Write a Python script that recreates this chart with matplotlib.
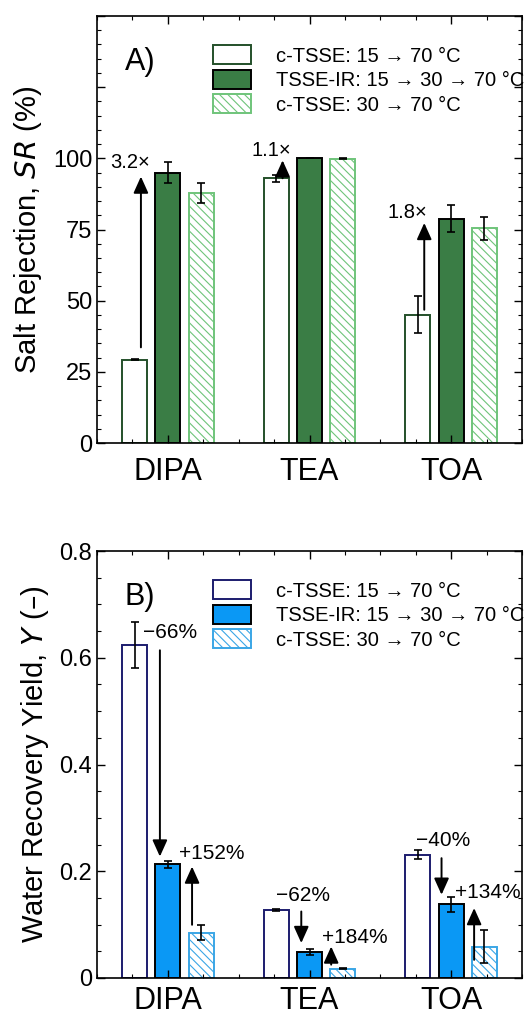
import numpy as np
import matplotlib
matplotlib.use('Agg')
import matplotlib.pyplot as plt
from matplotlib.ticker import MultipleLocator

plt.rcParams['font.family'] = ['Liberation Sans', 'DejaVu Sans']
plt.rcParams['hatch.linewidth'] = 0.8

amines = ['DIPA', 'TEA', 'TOA']
series = ['c-TSSE: 15 \u2192 70 \u00b0C', 'TSSE-IR: 15 \u2192 30 \u2192 70 \u00b0C', 'c-TSSE: 30 \u2192 70 \u00b0C']

# salt rejection (%)
sr_ctsse15 = [29.3, 93.0, 45.1]
sr_ctsse15_err = [0.3, 1.2, 6.4]
sr_ir = [95.0, 100.0, 78.8]
sr_ir_err = [3.8, 0.0, 4.7]
sr_ctsse30 = [87.7, 99.9, 75.4]
sr_ctsse30_err = [3.5, 0.3, 4.1]

# water recovery yield (-)
y_ctsse15 = [0.624, 0.128, 0.231]
y_ctsse15_err = [0.043, 0.002, 0.008]
y_ir = [0.213, 0.049, 0.138]
y_ir_err = [0.007, 0.005, 0.014]
y_ctsse30 = [0.085, 0.017, 0.059]
y_ctsse30_err = [0.014, 0.001, 0.031]

sr_labels = ['3.2\u00d7', '1.1\u00d7', '1.8\u00d7']
y_down_labels = ['\u221266%', '\u221262%', '\u221240%']
y_up_labels = ['+152%', '+184%', '+134%']

green_dark = '#24502a'
green_fill = '#3a7d45'
green_light = '#6fc47a'
navy = '#1c1c6e'
blue_fill = '#0a98f5'
blue_light = '#3aa6e6'

off = 0.235
w = 0.175
x = np.arange(len(amines))


def style_axes(ax, ymax, yticks, ylabels, minor, xpad=10):
	ax.set_xlim(-0.5, 2.5)
	ax.set_ylim(0, ymax)
	ax.set_xticks(x)
	ax.set_xticklabels(amines)
	ax.set_yticks(yticks)
	ax.set_yticklabels(ylabels)
	ax.xaxis.set_minor_locator(MultipleLocator(0.25))
	ax.yaxis.set_minor_locator(MultipleLocator(minor))
	ax.tick_params(which='both', direction='in', top=True, right=True)
	ax.tick_params(which='major', length=6, width=1.0)
	ax.tick_params(which='minor', length=3, width=0.8)
	ax.tick_params(axis='y', which='major', labelsize=17)
	ax.tick_params(axis='x', which='major', labelsize=22, pad=xpad)
	for s in ax.spines.values():
		s.set_linewidth(1.2)


def bars(ax, v1, e1, v2, e2, v3, e3, c_edge1, c_fill, c_light):
	ek = dict(ecolor='black', capsize=3, elinewidth=1.2, capthick=1.2)
	ax.bar(x - off, v1, w, yerr=e1, color='white', edgecolor=c_edge1, linewidth=1.4, label=series[0], error_kw=ek)
	ax.bar(x, v2, w, yerr=e2, color=c_fill, edgecolor='black', linewidth=1.4, label=series[1], error_kw=ek)
	ax.bar(x + off, v3, w, yerr=e3, color='white', edgecolor=c_light, hatch='\\\\\\\\', linewidth=1.4, label=series[2], error_kw=ek)


def arrow(ax, xx, y0, y1):
	ax.annotate('', xy=(xx, y1), xytext=(xx, y0),
				arrowprops=dict(arrowstyle='-|>,head_length=1.0,head_width=0.45', color='black', lw=1.4, shrinkA=0, shrinkB=0))


def legend(ax):
	ax.legend(loc='upper left', bbox_to_anchor=(0.24, 0.965), frameon=False, fontsize=14.5,
			  handlelength=1.9, handleheight=1.1, handletextpad=1.2, labelspacing=0.2, borderpad=0.2)


fig = plt.figure(figsize=(5.26, 10.18), dpi=100)
ax1 = fig.add_axes([97 / 526, 1 - 443 / 1018, 425 / 526, 427 / 1018])
ax2 = fig.add_axes([97 / 526, 1 - 978 / 1018, 425 / 526, 427 / 1018])

# ---- A) salt rejection
plt.rcParams['hatch.color'] = green_light
bars(ax1, sr_ctsse15, sr_ctsse15_err, sr_ir, sr_ir_err, sr_ctsse30, sr_ctsse30_err, green_dark, green_fill, green_light)
style_axes(ax1, 150, [0, 25, 50, 75, 100, 125, 150], ['0', '25', '50', '75', '100', '', ''], 5)
ax1.set_ylabel('Salt Rejection, $\\it{SR}$ (%)', fontsize=21, labelpad=6)
ax1.text(0.065, 0.893, 'A)', transform=ax1.transAxes, fontsize=22, va='center')
for i, (y0, y1, lx, ly) in enumerate([(33.6, 93.6, -0.27, 98.5), (93.0, 99.3, -0.27, 102.6), (46.8, 77.3, -0.31, 80.8)]):
	arrow(ax1, x[i] - 0.19, y0, y1)
	ax1.text(x[i] + lx, ly, sr_labels[i], fontsize=14.5, ha='center', va='center')
legend(ax1)

# ---- B) water recovery yield
plt.rcParams['hatch.color'] = blue_light
bars(ax2, y_ctsse15, y_ctsse15_err, y_ir, y_ir_err, y_ctsse30, y_ctsse30_err, navy, blue_fill, blue_light)
style_axes(ax2, 0.8, [0, 0.2, 0.4, 0.6, 0.8], ['0', '0.2', '0.4', '0.6', '0.8'], 0.05, xpad=6)
ax2.set_ylabel('Water Recovery Yield, $\\it{Y}$ (\u2013)', fontsize=21, labelpad=6)
ax2.text(0.065, 0.893, 'B)', transform=ax2.transAxes, fontsize=22, va='center')
down = [(-0.056, 0.614, 0.2275, 0.014, 0.647), (-0.058, 0.1246, 0.0655, -0.047, 0.154), (-0.068, 0.2245, 0.156, -0.06, 0.2575)]
up = [(0.171, 0.0997, 0.2088, 0.307, 0.234), (0.153, 0.025, 0.059, 0.317, 0.0767), (0.162, 0.034, 0.131, 0.256, 0.160)]
for i in range(3):
	dx, y0, y1, lx, ly = down[i]
	arrow(ax2, x[i] + dx, y0, y1)
	ax2.text(x[i] + lx, ly, y_down_labels[i], fontsize=15, ha='center', va='center')
	ux, u0, u1, ulx, uly = up[i]
	arrow(ax2, x[i] + ux, u0, u1)
	ax2.text(x[i] + ulx, uly, y_up_labels[i], fontsize=15, ha='center', va='center')
legend(ax2)

fig.savefig('out.png', dpi=100)
